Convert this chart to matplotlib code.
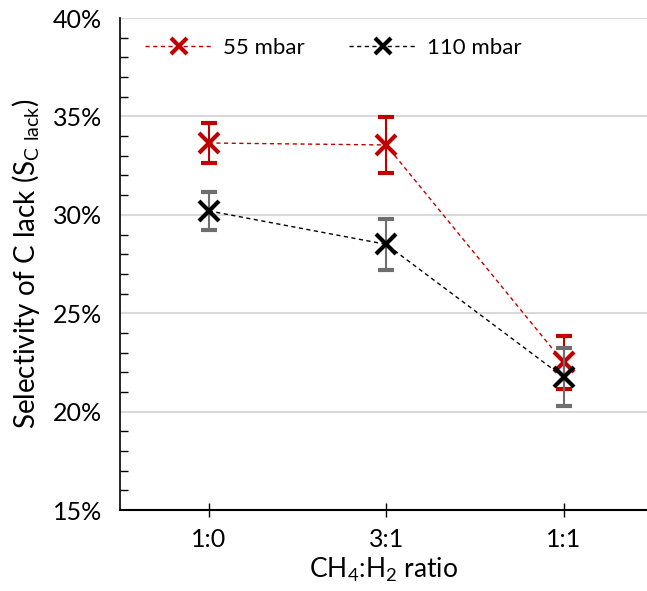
import numpy as np
import matplotlib.pyplot as plt
from matplotlib.ticker import MultipleLocator, FuncFormatter
from matplotlib.lines import Line2D

plt.rcParams['font.family'] = ['Lato', 'DejaVu Sans']
plt.rcParams['mathtext.fontset'] = 'custom'
plt.rcParams['mathtext.rm'] = 'Lato'

categories = ['1:0', '3:1', '1:1']
sel_55 = [33.65, 33.55, 22.5]
err_55 = [1.0, 1.4, 1.35]
sel_110 = [30.2, 28.5, 21.75]
err_110 = [0.97, 1.3, 1.47]

red = '#C00000'
dash = (0, (3, 2.5))

fig = plt.figure(figsize=(6.47, 5.91), dpi=100)
ax = fig.add_axes([0.1855, 0.137, 0.8145, 0.8325])
x = np.arange(len(categories))

ax.errorbar(x, sel_55, yerr=err_55, color=red, ecolor=red, elinewidth=1.5,
            capsize=6, capthick=1.5, linestyle=dash, linewidth=1,
            marker='x', markersize=15, markeredgewidth=3, zorder=3)
ax.errorbar(x, sel_110, yerr=err_110, color='black', ecolor='#6e6e6e', elinewidth=1.5,
            capsize=6, capthick=1.5, linestyle=dash, linewidth=1,
            marker='x', markersize=15, markeredgewidth=3, zorder=4)

ax.set_xlim(-0.5, 2.47)
ax.set_ylim(15, 40)
ax.set_xticks(x)
ax.set_xticklabels(categories)
ax.yaxis.set_major_locator(MultipleLocator(5))
ax.yaxis.set_minor_locator(MultipleLocator(1))
ax.yaxis.set_major_formatter(FuncFormatter(lambda v, p: '%d%%' % v))
ax.grid(axis='y', which='major', color='#d9d9d9', linewidth=1.5, zorder=0)
ax.set_axisbelow(True)

for s in ['top', 'right']:
    ax.spines[s].set_visible(False)
ax.spines['left'].set_linewidth(1.2)
ax.spines['bottom'].set_linewidth(1.5)
ax.tick_params(axis='y', which='both', direction='in', length=6, width=1, labelsize=18, pad=13)
ax.tick_params(axis='y', which='major', length=0)
ax.tick_params(axis='x', direction='inout', length=10, width=1, labelsize=18, pad=8)

ax.set_xlabel('CH$_4$:H$_2$ ratio', fontsize=19, labelpad=3)
ax.set_ylabel('Selectivity of C lack (S$_{\\mathrm{C\\ lack}}$)', fontsize=20, labelpad=8)

handles = [Line2D([], [], color=red, linestyle=dash, linewidth=1, marker='x',
                  markersize=11, markeredgewidth=3),
           Line2D([], [], color='black', linestyle=dash, linewidth=1, marker='x',
                  markersize=11, markeredgewidth=3)]
ax.legend(handles, ['55 mbar', '110 mbar'], loc='upper left', bbox_to_anchor=(0.01, 1.0),
          ncol=2, frameon=False, fontsize=16, columnspacing=2.0, handlelength=3.0,
          handletextpad=0.5)

plt.savefig('out.png', dpi=100)
